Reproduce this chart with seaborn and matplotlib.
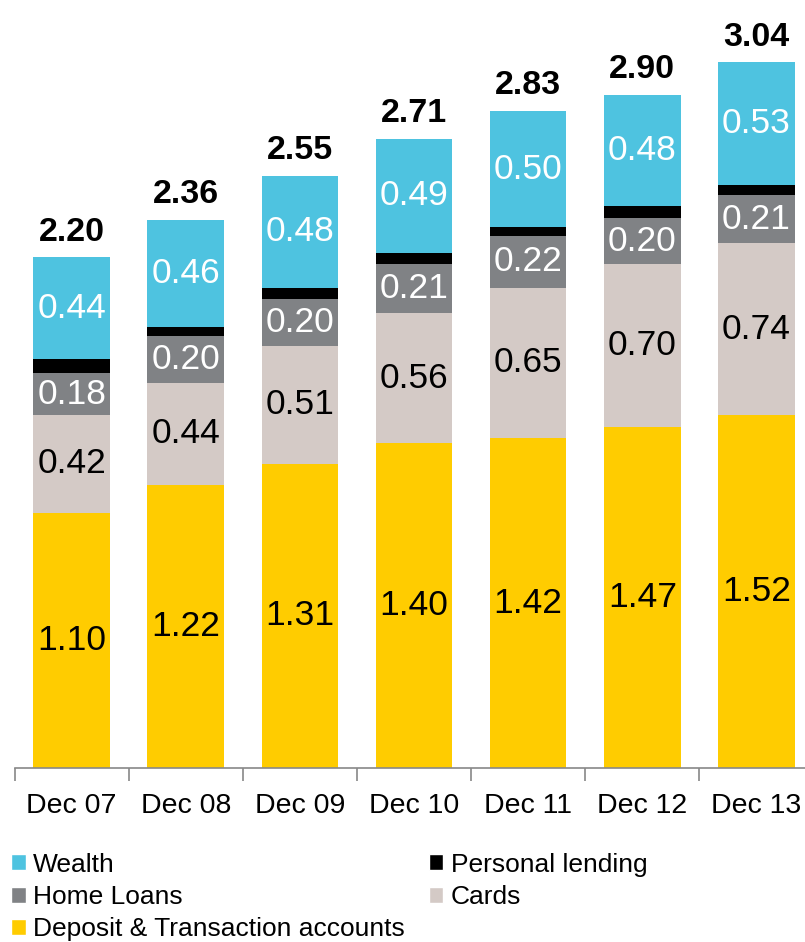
import numpy as np
import pandas as pd
import matplotlib.pyplot as plt
import seaborn as sns
from matplotlib.patches import Patch

years = ['Dec 07', 'Dec 08', 'Dec 09', 'Dec 10', 'Dec 11', 'Dec 12', 'Dec 13']
deposit = [1.10, 1.22, 1.31, 1.40, 1.42, 1.47, 1.52]
cards = [0.42, 0.44, 0.51, 0.56, 0.65, 0.70, 0.74]
home_loans = [0.18, 0.20, 0.20, 0.21, 0.22, 0.20, 0.21]
personal = [0.06, 0.04, 0.05, 0.05, 0.04, 0.05, 0.04]
wealth = [0.44, 0.46, 0.48, 0.49, 0.50, 0.48, 0.53]
totals = [2.20, 2.36, 2.55, 2.71, 2.83, 2.90, 3.04]

sns.set_style('white')
plt.rcParams['font.family'] = ['Liberation Sans', 'DejaVu Sans']
plt.rcParams['text.color'] = 'black'
plt.rcParams['xtick.labelcolor'] = 'black'

# bottom to top
series = [
    ('Deposit & Transaction accounts', deposit, '#FFCC00', 'black', True),
    ('Cards', cards, '#D4CAC6', 'black', True),
    ('Home Loans', home_loans, '#808285', 'white', True),
    ('Personal lending', personal, '#000000', 'white', False),
    ('Wealth', wealth, '#4EC3E0', 'white', True),
]

df = pd.DataFrame({'year': years})
cum = np.zeros(len(years))
for name, vals, col, tc, lab in series:
    df[name + '_bottom'] = cum
    cum = cum + np.array(vals)
    df[name + '_top'] = cum

fig = plt.figure(figsize=(8.05, 9.42), dpi=100)
ax = fig.add_axes([14.5 / 805, 174 / 942, 799 / 805, 766 / 942])

# draw from the tallest cumulative bar down so the stack shows
for name, vals, col, tc, lab in reversed(series):
    sns.barplot(data=df, x='year', y=name + '_top', color=col, saturation=1,
                width=0.67, linewidth=0, ax=ax)

for name, vals, col, tc, lab in series:
    if not lab:
        continue
    for i, v in enumerate(vals):
        mid = df[name + '_bottom'][i] + v / 2
        ax.text(i, mid, f'{v:.2f}', ha='center', va='center', color=tc, fontsize=25.5)

for i, t in enumerate(totals):
    ax.annotate(f'{t:.2f}', (i, t), xytext=(0, 7), textcoords='offset points',
                ha='center', va='bottom', fontsize=24.5, fontweight='bold', color='black')

ax.set_ylim(0, 3.3)
ax.set_xlim(-0.5, 6.5)
ax.set_xlabel('')
ax.set_ylabel('')
ax.set_yticks([])
for s in ['top', 'right', 'left']:
    ax.spines[s].set_visible(False)
ax.spines['bottom'].set_color('#888888')
ax.spines['bottom'].set_linewidth(1.2)
ax.set_xticks(np.arange(-0.5, 7, 1), minor=True)
ax.tick_params(axis='x', which='major', length=0, labelsize=20.5, pad=18)
ax.tick_params(axis='x', which='minor', bottom=True, length=9, width=1.2,
               color='#888888', direction='out')

order = ['Wealth', 'Home Loans', 'Deposit & Transaction accounts', 'Personal lending', 'Cards']
colors = {s[0]: s[2] for s in series}
handles = [Patch(facecolor=colors[n], label=n) for n in order]
fig.legend(handles=handles, loc='upper left', bbox_to_anchor=(0.014, 0.095), ncol=2,
           frameon=False, fontsize=19, handlelength=0.55, handleheight=0.55,
           handletextpad=0.27, columnspacing=0.92, labelspacing=0.32, borderaxespad=0,
           borderpad=0)

fig.savefig('out.png', dpi=100)
